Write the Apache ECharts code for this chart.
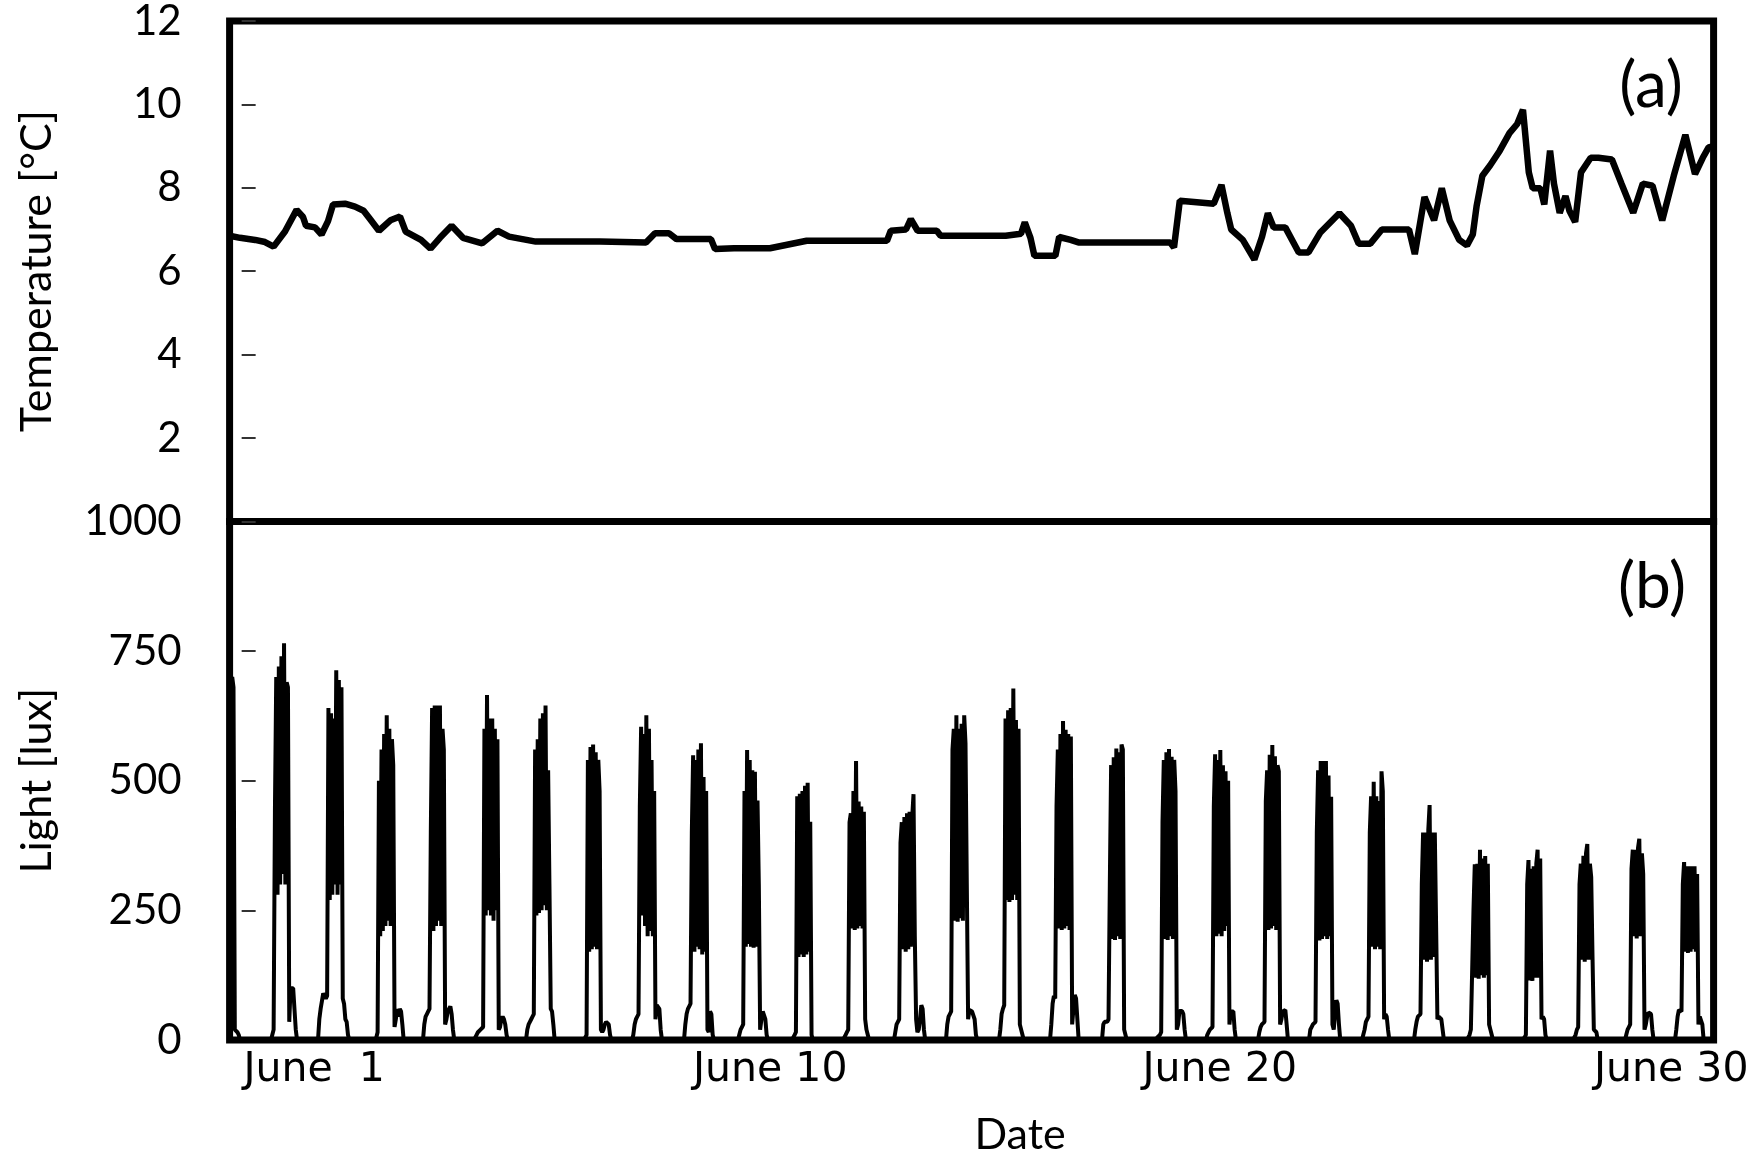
<!DOCTYPE html>
<html>
<head>
<meta charset="utf-8">
<script src="https://cdn.jsdelivr.net/npm/echarts@6/dist/echarts.min.js"></script>
<style>
html,body{margin:0;padding:0;background:#fff;}
#chart{width:1756px;height:1164px;}
</style>
</head>
<body>
<div id="chart"></div>
<script>
// ---- time axis (days since June 1, 00:00) ----
const X_MIN = -0.5;
const X_MAX = 27.984;
const xLabelPos = [-0.233, 8.394, 17.022, 25.688];
const xLabelText = ['June  1', 'June 10', 'June 20', 'June 30'];

// ---- panel (a): temperature ----
const tempTime = [-0.5,-0.3,-0.01,0.179,0.345,0.563,0.786,0.909,0.966,1.139,1.264,1.389,1.485,1.715,1.907,2.072,2.195,2.366,2.586,2.771,2.880,3.174,3.356,3.538,3.761,3.980,4.348,4.642,4.863,5.377,6.609,7.492,7.665,7.934,8.078,8.740,8.817,9.181,9.872,10.577,12.118,12.191,12.483,12.575,12.706,13.074,13.147,14.396,14.690,14.763,14.872,14.947,15.350,15.423,15.644,15.792,17.554,17.627,17.738,18.391,18.538,18.650,18.725,18.947,19.170,19.318,19.429,19.540,19.763,20.022,20.208,20.431,20.801,21.024,21.172,21.395,21.617,22.137,22.249,22.435,22.619,22.767,22.917,23.101,23.250,23.362,23.435,23.546,23.696,23.880,24.066,24.214,24.325,24.437,24.512,24.659,24.734,24.845,24.920,25.030,25.141,25.216,25.327,25.439,25.625,25.773,26.032,26.218,26.441,26.625,26.811,26.998,27.220,27.442,27.627,27.776,27.888,27.984];
const tempValue = [6.85,6.80,6.75,6.70,6.59,6.95,7.47,7.30,7.09,7.05,6.88,7.20,7.60,7.62,7.55,7.45,7.25,6.97,7.22,7.31,6.95,6.75,6.54,6.80,7.09,6.80,6.67,6.97,6.83,6.71,6.71,6.69,6.91,6.91,6.77,6.77,6.53,6.55,6.55,6.73,6.73,6.97,7.00,7.25,6.97,6.97,6.85,6.85,6.90,7.17,6.80,6.37,6.37,6.82,6.75,6.69,6.69,6.57,7.69,7.62,8.07,7.40,7.00,6.75,6.28,6.83,7.39,7.05,7.05,6.45,6.45,6.92,7.39,7.09,6.66,6.66,7.00,7.00,6.41,7.78,7.22,7.99,7.22,6.75,6.62,6.88,7.56,8.29,8.54,8.89,9.31,9.53,9.87,8.37,7.99,7.99,7.60,8.89,8.10,7.40,7.80,7.45,7.18,8.37,8.72,8.72,8.68,8.09,7.40,8.10,8.05,7.22,8.29,9.27,8.33,8.72,8.97,9.00];

// ---- panel (b): light, logged every 0.025 day (36 min) during each active period; 0 otherwise ----
const lightStepDays = 0.025;
const lightStart = [-0.5,0.295,1.197,2.291,3.212,4.191,5.189,6.302,7.224,8.222,9.258,10.295,11.274,12.252,13.250,14.268,15.247,16.245,17.281,18.241,19.239,20.218,21.235,22.233,23.250,24.306,25.285,26.283,27.243];
const lightBursts = [
  [700,690,700,680,20,18,15,10,0],
  [0,10,20,440,700,280,720,300,740,320,765,300,690,680,35,100,98,100,60,20,0],
  [0,40,60,75,90,85,80,85,640,270,630,280,620,300,713,280,694,300,680,80,70,40,35,10,0],
  [0,5,15,500,200,560,210,590,220,626,230,600,220,580,530,25,40,60,45,60,55,30,0],
  [0,30,45,50,55,60,400,640,210,645,220,645,230,645,220,600,560,30,40,55,60,65,50,20,0],
  [0,5,10,15,15,20,20,25,600,240,665,250,620,240,620,230,600,250,580,20,25,40,45,40,30,10,0],
  [0,20,30,35,40,45,50,560,240,580,245,620,250,630,260,645,250,520,300,60,55,30,0],
  [0,5,10,540,170,565,175,570,180,555,175,540,480,20,15,20,30,35,35,30,10,0],
  [0,10,30,40,45,50,450,604,240,590,220,626,200,600,210,540,200,480,40,67,67,60,20,0],
  [0,30,50,60,65,70,400,549,170,540,180,560,175,572,165,507,170,480,20,15,55,50,10,0],
  [0,10,20,25,30,480,180,559,185,540,180,520,178,517,180,462,300,20,40,55,55,40,10,0],
  [0,5,10,15,470,160,475,165,480,160,490,165,496,170,421,10,0],
  [0,5,10,15,20,420,437,215,480,212,538,215,460,220,450,215,440,40,20,10,0],
  [0,15,30,35,40,380,420,175,430,170,437,175,440,180,430,474,200,40,15,20,40,67,60,20,0],
  [0,30,45,50,55,560,600,230,626,228,600,235,610,230,626,572,300,40,58,60,55,58,40,10,0],
  [0,20,50,60,67,620,270,636,266,640,270,678,280,617,270,600,30,20,10,0],
  [0,30,70,85,80,450,560,215,590,212,615,215,598,220,590,212,585,30,60,87,80,40,0],
  [0,30,35,35,35,40,300,530,195,545,193,562,200,555,195,570,560,20,10,0],
  [0,5,8,10,15,420,540,195,555,193,561,200,546,195,540,480,20,30,56,58,56,50,20,0],
  [0,10,15,20,20,25,450,551,200,540,205,559,200,530,210,518,220,500,30,55,58,55,20,0],
  [0,15,25,30,30,35,460,520,212,550,215,569,220,547,212,530,518,30,40,55,58,58,30,0],
  [0,20,25,30,30,35,400,520,192,538,195,538,200,538,195,510,200,469,30,20,50,77,70,30,0],
  [0,10,20,35,40,45,400,470,180,498,175,470,180,461,175,518,480,40,50,45,20,0],
  [0,20,35,45,45,50,300,400,155,400,151,405,453,155,400,160,400,400,40,45,45,40,20,0],
  [0,5,10,20,20,250,339,120,340,118,367,125,350,120,355,125,340,30,20,10,0],
  [0,0,5,10,300,347,115,330,114,335,120,340,367,120,350,40,45,40,10,0],
  [0,5,10,20,25,300,340,155,355,151,360,378,155,340,314,160,20,20,15,0],
  [0,10,20,25,30,330,367,200,367,196,370,388,200,360,320,20,30,45,53,53,50,20,0],
  [0,20,45,58,58,55,300,343,170,335,168,335,170,335,175,335,170,320,30,45,45,30,0]
];

const tempData = tempTime.map((t, i) => [t, tempValue[i]]);
const lightData = [];
lightBursts.forEach((vals, i) => {
  vals.forEach((v, j) => lightData.push([lightStart[i] + j * lightStepDays, v]));
});
lightData.push([X_MAX, 0]);

const chart = echarts.init(document.getElementById('chart'), null, {renderer: 'canvas'});
const yLabel = {fontFamily: 'Lato', fontSize: 42, color: '#000', margin: 48, padding: [10, 0, 0, 0],
                formatter: function (v) { return String(v); }};
const yTick = {show: true, inside: false, length: 14, lineStyle: {color: '#333', width: 2}};
const nameStyle = {fontFamily: 'Lato', fontSize: 43, color: '#000'};

chart.setOption({
  animation: false,
  backgroundColor: '#fff',
  grid: [
    {left: 229.6, right: 42.4, top: 19.6, height: 501.8, show: true, borderColor: '#000', borderWidth: 7, containLabel: false},
    {left: 229.6, right: 42.4, top: 521.4, height: 518.6, show: true, borderColor: '#000', borderWidth: 7, containLabel: false}
  ],
  xAxis: [
    {gridIndex: 0, type: 'value', min: X_MIN, max: X_MAX,
     axisLine: {show: false}, axisTick: {show: false}, axisLabel: {show: false}, splitLine: {show: false}},
    {gridIndex: 1, type: 'value', min: X_MIN, max: X_MAX,
     axisLine: {show: false}, axisTick: {show: false}, splitLine: {show: false},
     axisLabel: {
       show: true, customValues: xLabelPos, align: 'left', margin: 10,
       fontFamily: 'DejaVu Sans', fontSize: 41, color: '#000',
       formatter: function (v) {
         let best = 0;
         xLabelPos.forEach((p, i) => { if (Math.abs(p - v) < Math.abs(xLabelPos[best] - v)) best = i; });
         return xLabelText[best];
       }
     },
     name: 'Date', nameLocation: 'middle', nameGap: 74,
     nameTextStyle: Object.assign({}, nameStyle, {padding: [0, 0, 0, 97]})}
  ],
  yAxis: [
    {gridIndex: 0, type: 'value', min: 0, max: 12, interval: 2,
     axisLine: {show: false}, axisTick: yTick, splitLine: {show: false},
     axisLabel: Object.assign({showMinLabel: false}, yLabel),
     name: 'Temperature [°C]', nameLocation: 'middle', nameGap: 171, nameRotate: 90,
     nameTextStyle: nameStyle},
    {gridIndex: 1, type: 'value', min: 0, max: 1000, interval: 250,
     axisLine: {show: false}, axisTick: yTick, splitLine: {show: false},
     axisLabel: yLabel,
     name: 'Light [lux]', nameLocation: 'middle', nameGap: 171, nameRotate: 90,
     nameTextStyle: nameStyle}
  ],
  graphic: [
    {type: 'text', x: 1651, y: 86, z: 100,
     style: {text: '(a)', fontFamily: 'Lato', fontSize: 64, fill: '#000', align: 'center', verticalAlign: 'middle'}},
    {type: 'text', x: 1652, y: 587, z: 100,
     style: {text: '(b)', fontFamily: 'Lato', fontSize: 64, fill: '#000', align: 'center', verticalAlign: 'middle'}}
  ],
  series: [
    {type: 'line', xAxisIndex: 0, yAxisIndex: 0, data: tempData, showSymbol: false, symbol: 'none',
     lineStyle: {color: '#000', width: 6.5}, itemStyle: {color: '#000'}},
    {type: 'line', xAxisIndex: 1, yAxisIndex: 1, data: lightData, showSymbol: false, symbol: 'none',
     lineStyle: {color: '#000', width: 4}, itemStyle: {color: '#000'}}
  ]
});
</script>
</body>
</html>
